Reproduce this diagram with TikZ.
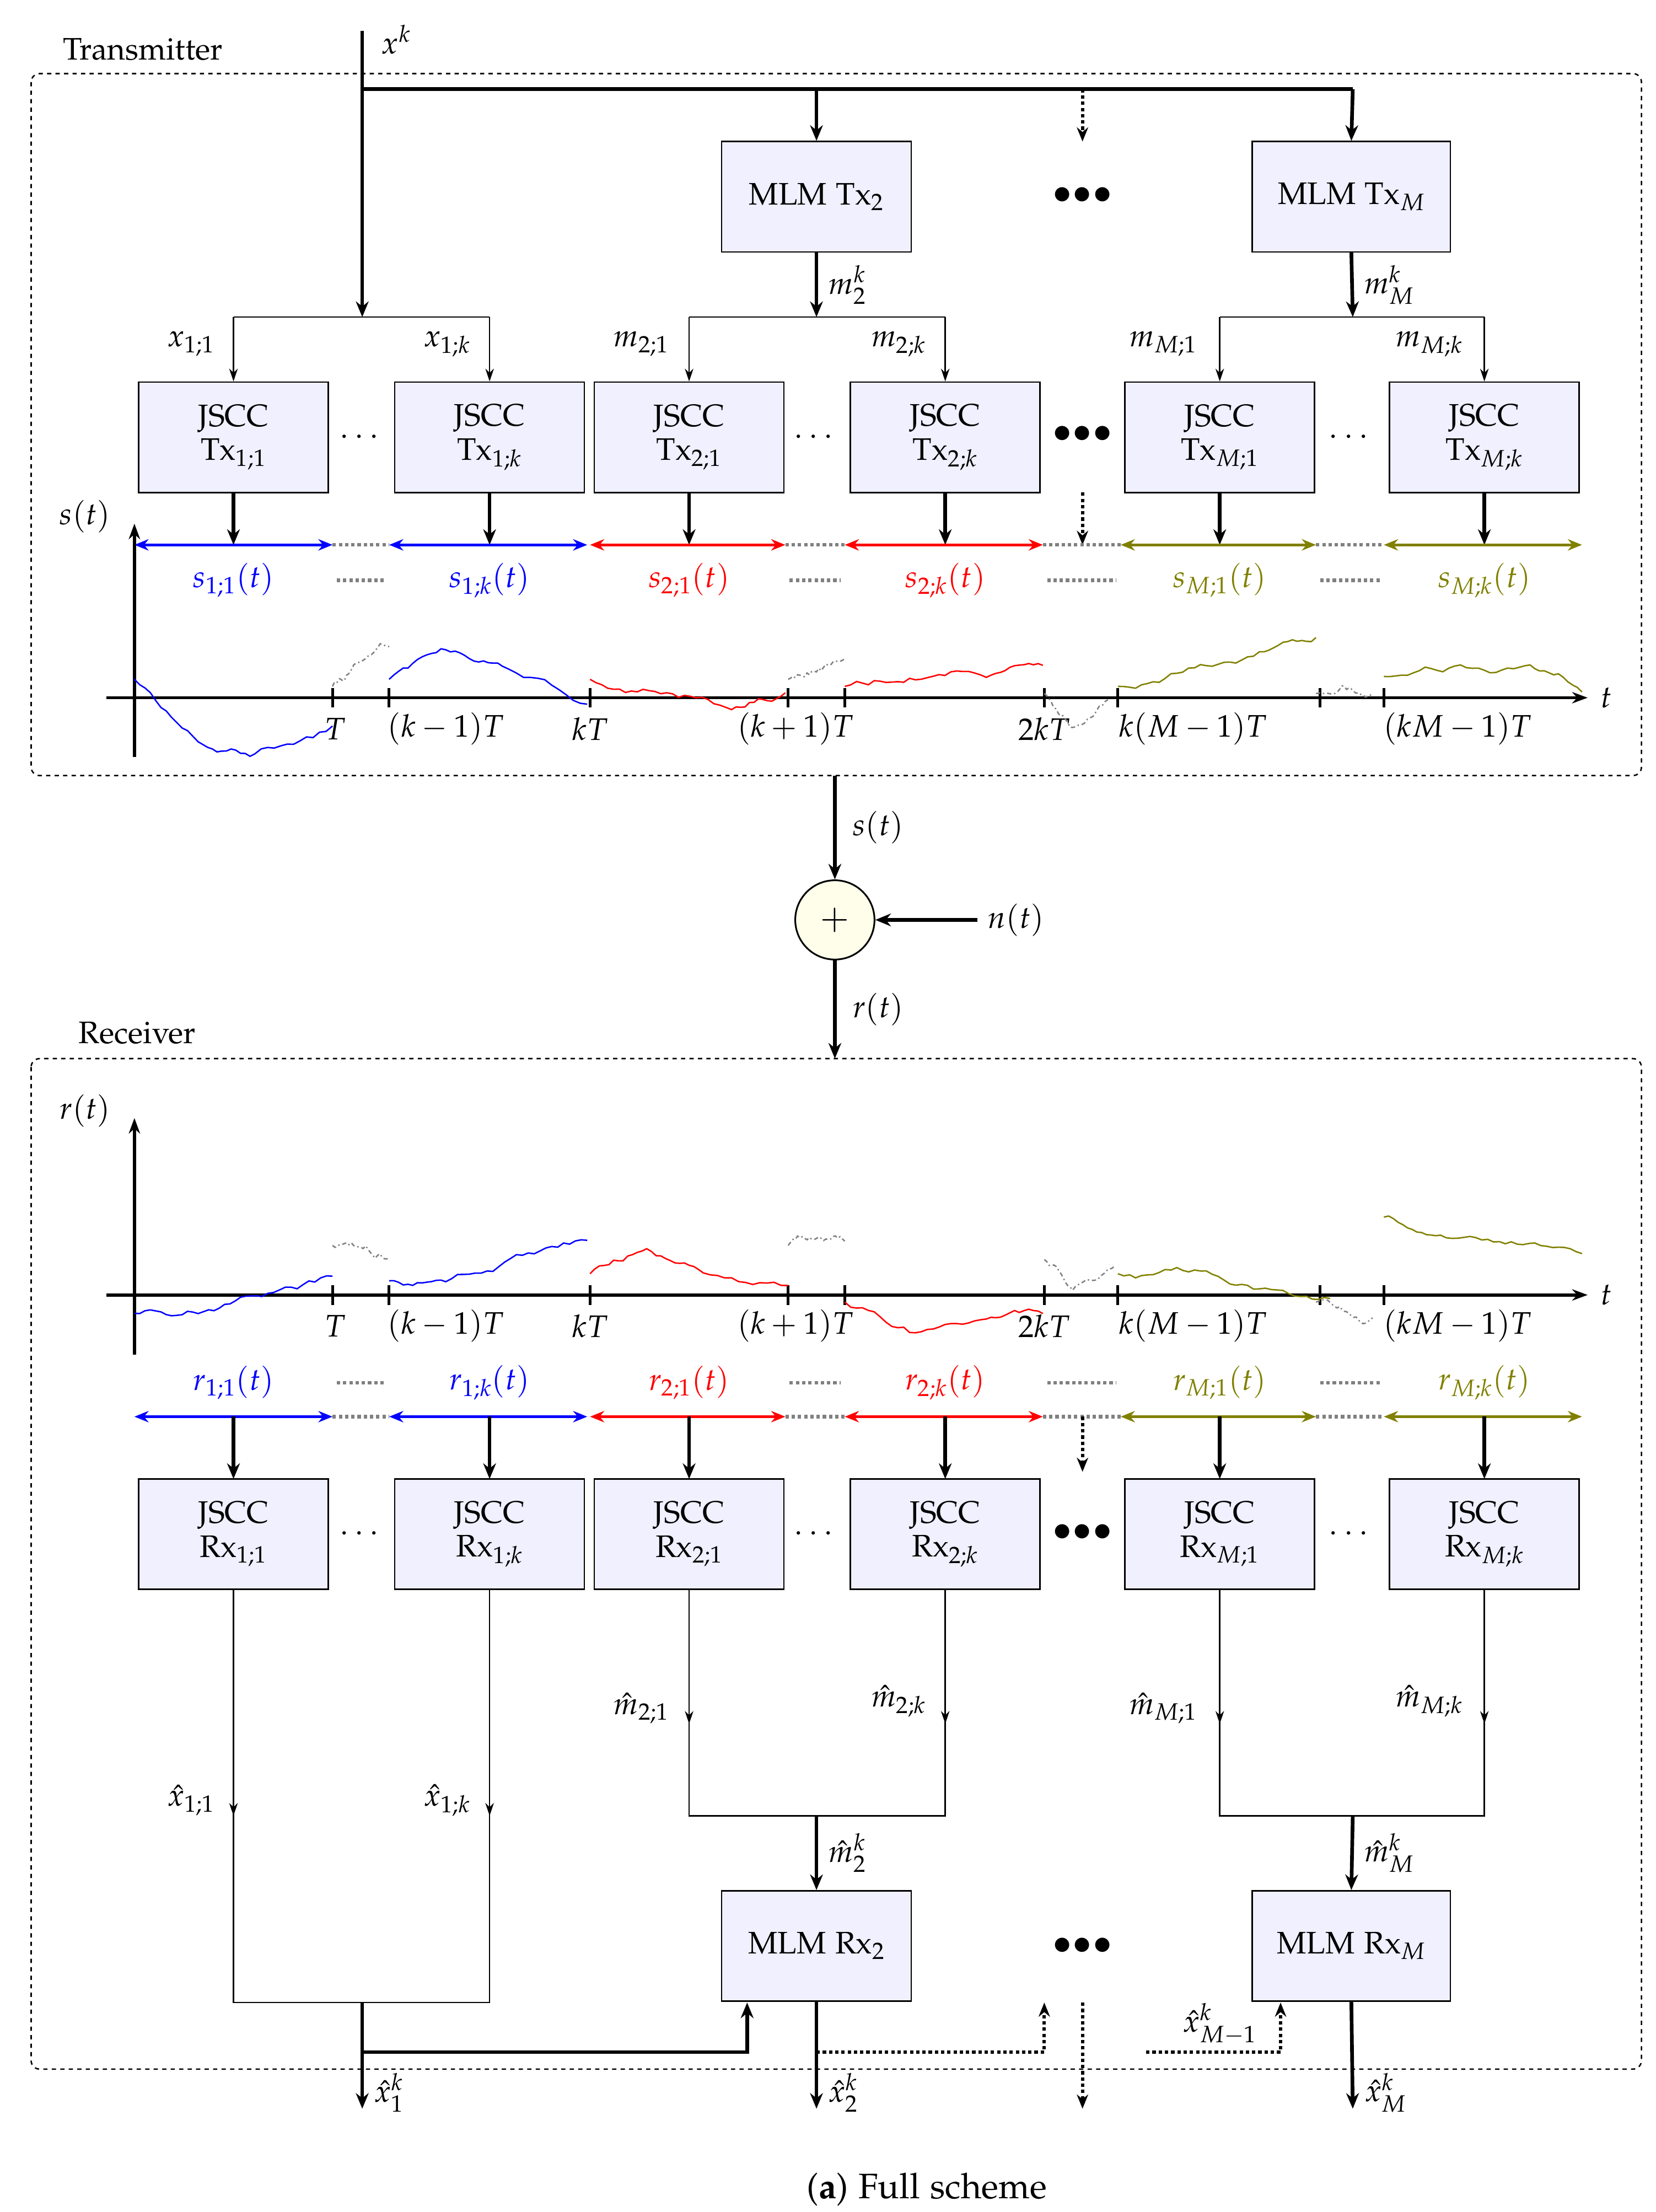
\documentclass[tikz,border=0pt]{standalone}
\usepackage[T1]{fontenc}
\usepackage{mathpazo}
\usetikzlibrary{arrows.meta}
\begin{document}
\fontencoding{T1}\fontfamily{pplx}\fontsize{22}{26}\selectfont
\begin{tikzpicture}[x=1pt,y=-1pt,
  box/.style={draw,fill=blue!6,line width=1pt,minimum width=134pt,minimum height=78pt,align=center,inner sep=0},
  thk/.style={line width=2.6pt,-{Stealth[length=11pt,width=9pt]}},
  thn/.style={line width=1pt,-{Stealth[length=9pt,width=6pt]}},
  dta/.style={line width=2.4pt,dotted,-{Stealth[length=10pt,width=8pt]}},
  dbl/.style={line width=2pt,{Stealth[length=10pt,width=8pt]}-{Stealth[length=10pt,width=8pt]}},
  gd/.style={gray,line width=2.4pt,dotted},
  grw/.style={gray,line width=1pt,dash dot},
  ax/.style={line width=2.2pt,-{Stealth[length=11pt,width=8pt]}},
  frame/.style={dashed,line width=1pt,rounded corners=6pt}]
\useasboundingbox (0,0) rectangle (1170,1563);
\pgfmathsetseed{7}
\newcommand\wig[3]{\draw[#1,line width=1pt] #2 \foreach \dx/\dy in {#3}{ \foreach \j in {1,...,12}{ -- ++({\dx/12},{\dy/12+2.2*rand}) } };}
\definecolor{olv}{RGB}{128,128,0}
%% Transmitter
\draw[frame] (22,52) rectangle (1160,548);
\node at (101,35) {Transmitter};
\coordinate (xin) at (256,22);
\node at (280,28) {$x^k$};
\coordinate (sp1) at (256,224);
\draw[thk] (xin) -- (sp1);
\draw[line width=2.6pt] (256,63) -- (956,63);
\node[box,minimum height=78pt] (mt2) at (577,139) {MLM Tx$_2$};
\node[box,minimum width=140pt] (mtM) at (955,139) {MLM Tx$_M$};
\draw[thk] (577,63) -- (mt2.north);
\draw[thk] (956,63) -- (mtM.north);
\draw[dta] (765,63) -- (765,100);
\node at (765,138) {\Huge$\bullet\!\bullet\!\bullet$};
\coordinate (sp2) at (577,224);
\coordinate (spM) at (956,224);
\draw[thk] (mt2.south) -- (sp2) node[midway,right] {$m_2^k$};
\draw[thk] (mtM.south) -- (spM) node[midway,right] {$m_M^k$};
\foreach \n/\x/\l in {a/165/{$_{1;1}$},b/346/{$_{1;k}$},c/487/{$_{2;1}$},d/668/{$_{2;k}$},e/862/{$_{M;1}$},f/1049/{$_{M;k}$}}{
  \node[box] (t\n) at (\x,309) {JSCC\\[-2pt]Tx\l};
  \draw[thk] (t\n.south) -- (\x,385);
  \node[box] (r\n) at (\x,1084) {JSCC\\[-2pt]Rx\l};
}
\node at (254,309) {$\cdots$};\node at (575,309) {$\cdots$};\node at (953,309) {$\cdots$};
\node at (765,307) {\Huge$\bullet\!\bullet\!\bullet$};
\draw[line width=1pt] (165,224) -- (346,224);
\draw[thn] (165,224) -- (ta.north); \draw[thn] (346,224) -- (tb.north);
\draw[line width=1pt] (487,224) -- (668,224); \draw[thn] (487,224) -- (tc.north); \draw[thn] (668,224) -- (td.north);
\draw[line width=1pt] (862,224) -- (1049,224); \draw[thn] (862,224) -- (te.north); \draw[thn] (1049,224) -- (tf.north);
\node at (135,243) {$x_{1;1}$};\node at (316,243) {$x_{1;k}$};
\node at (453,243) {$m_{2;1}$};\node at (635,243) {$m_{2;k}$};
\node at (822,243) {$m_{M;1}$};\node at (1010,243) {$m_{M;k}$};
\draw[dta] (765,348) -- (765,385);
% s(t) arrows
\foreach \y/\ly/\c in {385/410/s,1001/977/r}{
\draw[dbl,blue] (95,\y) -- (235,\y); \draw[dbl,blue] (275,\y) -- (415,\y);
\draw[dbl,red] (417,\y) -- (555,\y); \draw[dbl,red] (597,\y) -- (737,\y);
\draw[dbl,olv] (792,\y) -- (930,\y); \draw[dbl,olv] (978,\y) -- (1118,\y);
\foreach \a/\b in {235/275,555/597,737/792,930/978}{\draw[gd] (\a,\y) -- (\b,\y); \draw[gd] (\a+3,\ly) -- (\b-3,\ly);}
\node[blue] at (165,\ly) {$\c_{1;1}(t)$};\node[blue] at (346,\ly) {$\c_{1;k}(t)$};
\node[red] at (487,\ly) {$\c_{2;1}(t)$};\node[red] at (668,\ly) {$\c_{2;k}(t)$};
\node[olv] at (862,\ly) {$\c_{M;1}(t)$};\node[olv] at (1049,\ly) {$\c_{M;k}(t)$};
}
% axes
\foreach \y/\ty/\c in {493/370/s,915/790/r}{
\draw[ax] (95,\y+42) -- (95,\ty);
\node at (60,\ty-5) {$\c(t)$};
\draw[ax] (75,\y) -- (1122,\y);
\node at (1135,\y) {$t$};
\foreach \x in {235,275,417,557,597,738,790,933,978}{\draw[line width=2pt] (\x,\y-7) -- (\x,\y+7);}
\node at (237,\y+22) {$T$};\node at (315,\y+22) {$(k-1)T$};\node at (417,\y+22) {$kT$};
\node at (562,\y+22) {$(k+1)T$};\node at (738,\y+22) {$2kT$};\node at (843,\y+22) {$k(M-1)T$};\node at (1030,\y+22) {$(kM-1)T$};
}
% s waveforms
\wig{blue}{(95,480)}{45/40,40/2,55/-20}
\wig{grw}{(235,485)}{15/-15,25/-10}
\wig{blue}{(275,480)}{40/-15,40/5,60/25}
\wig{red}{(417,480)}{50/5,50/10,38/-15}
\wig{grw}{(557,480)}{20/-10,20/-5}
\wig{red}{(597,485)}{50/-10,50/-5,40/-8}
\wig{grw}{(738,490)}{20/20,25/-20}
\wig{olv}{(790,485)}{50/-15,50/-15,40/-10}
\wig{grw}{(930,490)}{20/-8,20/8}
\wig{olv}{(978,478)}{50/-10,50/0,40/15}
% r waveforms
\wig{blue}{(95,928)}{45/-3,45/-10,50/-10}
\wig{grw}{(235,880)}{20/0,20/3}
\wig{blue}{(275,905)}{40/0,50/-15,50/-10}
\wig{red}{(417,900)}{40/-15,40/10,60/10}
\wig{grw}{(557,880)}{20/-2,20/2}
\wig{red}{(597,920)}{50/20,50/-15,40/-5}
\wig{grw}{(738,890)}{20/20,30/-15}
\wig{olv}{(790,900)}{50/0,50/10,50/5}
\wig{grw}{(930,920)}{20/5,20/0}
\wig{olv}{(978,860)}{40/15,50/0,50/10}
% adder
\node[draw,circle,fill=yellow!8,line width=1.2pt,minimum size=56pt,inner sep=0] (add) at (590,650) {\Huge$\mathbf{+}$};
\coordinate (txo) at (590,548);
\draw[thk] (txo) -- (add.north) node[midway,right=4pt] {$s(t)$};
\node (nt) at (718,650) {$n(t)$};
\draw[thk] (nt.west) -- (add.east);
\coordinate (rxi) at (590,748);
\draw[thk] (add.south) -- (rxi) node[midway,right=4pt] {$r(t)$};
%% Receiver
\draw[frame] (22,748) rectangle (1160,1462);
\node at (97,730) {Receiver};
\foreach \x in {165,346,487,668,862,1049}{\draw[thk] (\x,1001) -- (\x,1045);}
\draw[dta] (765,1001) -- (765,1040);
\node at (254,1084) {$\cdots$};\node at (575,1084) {$\cdots$};\node at (953,1084) {$\cdots$};
\node at (765,1083) {\Huge$\bullet\!\bullet\!\bullet$};
\draw[line width=1pt] (ra.south) -- (165,1415) -- (346,1415) -- (rb.south);
\draw[thn] (165,1200) -- (165,1283); \draw[thn] (346,1200) -- (346,1283);
\node at (135,1272) {$\hat x_{1;1}$};\node at (316,1272) {$\hat x_{1;k}$};
\draw[line width=1pt] (rc.south) -- (487,1283) -- (668,1283) -- (rd.south);
\draw[thn] (487,1150) -- (487,1218); \draw[thn] (668,1150) -- (668,1218);
\draw[line width=1pt] (re.south) -- (862,1283) -- (1049,1283) -- (rf.south);
\draw[thn] (862,1150) -- (862,1218); \draw[thn] (1049,1150) -- (1049,1218);
\node at (453,1207) {$\hat m_{2;1}$};\node at (635,1202) {$\hat m_{2;k}$};
\node at (822,1207) {$\hat m_{M;1}$};\node at (1010,1202) {$\hat m_{M;k}$};
\node[box] (mr2) at (577,1375) {MLM Rx$_2$};
\node[box,minimum width=140pt] (mrM) at (955,1375) {MLM Rx$_M$};
\draw[thk] (577,1283) -- (mr2.north) node[midway,right] {$\hat m_2^k$};
\draw[thk] (956,1283) -- (mrM.north) node[midway,right] {$\hat m_M^k$};
\node at (765,1375) {\Huge$\bullet\!\bullet\!\bullet$};
\coordinate (o1) at (256,1490);\coordinate (o2) at (577,1490);\coordinate (o3) at (765,1490);\coordinate (oM) at (956,1490);
\draw[thk] (256,1415) -- (o1) node[pos=0.85,right] {$\hat x_1^k$};
\draw[thk] (256,1450) -- (528,1450) -- (528,1415);
\draw[thk] (mr2.south) -- (o2) node[pos=0.85,right] {$\hat x_2^k$};
\draw[dta] (577,1450) -- (738,1450) -- (738,1415);
\draw[dta] (765,1415) -- (o3);
\draw[dta] (810,1450) -- (905,1450) -- (905,1415);
\node at (862,1430) {$\hat x_{M-1}^k$};
\draw[thk] (mrM.south) -- (oM) node[pos=0.85,right] {$\hat x_M^k$};
\node at (655,1547) {\fontsize{25}{30}\selectfont(\textbf{a}) Full scheme};
\end{tikzpicture}
\end{document}
